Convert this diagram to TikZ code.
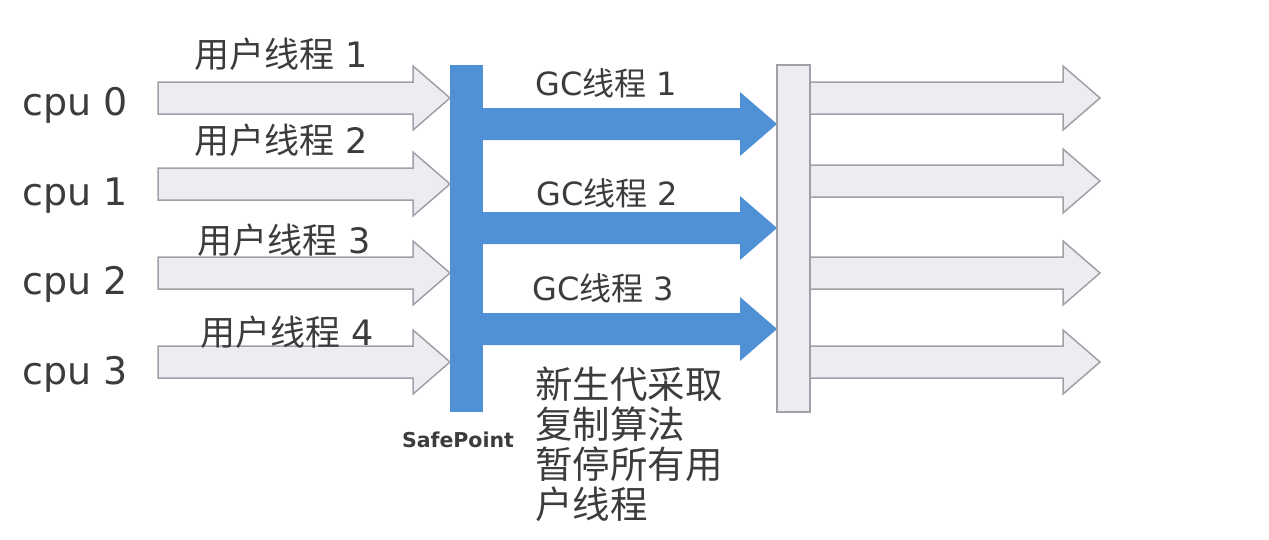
\documentclass[tikz,border=0pt]{standalone}
\usepackage{fontspec}
\setmainfont{DejaVu Sans}
\newfontfamily\cjk{Noto Sans CJK SC}
\usepackage{tikz}
\usetikzlibrary{positioning}

\definecolor{txtgray}{RGB}{60,60,60}
\definecolor{boxgray}{RGB}{236,236,241}
\definecolor{edgegray}{RGB}{160,160,168}
\definecolor{gcblue}{RGB}{80,144,212}

% body half width, head half width, head length
\newcommand\bw{16}
\newcommand\hw{32}
\newcommand\hl{37}
\newcommand\blockarrow[4]{%
  \draw[#1] (#2,#4-\bw) -- (#3-\hl,#4-\bw) -- (#3-\hl,#4-\hw) -- (#3,#4)
    -- (#3-\hl,#4+\hw) -- (#3-\hl,#4+\bw) -- (#2,#4+\bw) -- cycle;}

\tikzset{
  userarrow/.style={fill=boxgray,draw=edgegray,line width=1.5pt,line join=miter},
  gcarrow/.style={fill=gcblue,draw=none},
  cpulabel/.style={anchor=base west,inner sep=0,text=txtgray,font=\fontsize{38}{40}\selectfont},
  threadlabel/.style={anchor=base west,inner sep=0,text=txtgray,font=\fontsize{35}{40}\selectfont},
  gclabel/.style={anchor=base west,inner sep=0,text=txtgray,font=\fontsize{32}{36}\selectfont},
  spbar/.style={fill=gcblue,draw=none,minimum width=33pt,minimum height=347pt,inner sep=0},
  gcbar/.style={fill=boxgray,draw=edgegray,line width=1.5pt,minimum width=33pt,minimum height=347pt,inner sep=0}
}

\begin{document}
\begin{tikzpicture}[x=1pt,y=-1pt]
\useasboundingbox (0,0) rectangle (1269,539);

% user threads into the safepoint
\foreach \y in {98,184,273,362}
  \blockarrow{userarrow}{158}{450}{\y};
% gc threads
\foreach \y in {124,228,329}
  \blockarrow{gcarrow}{483}{777}{\y};
% back to user threads
\foreach \y in {98,181,273,362}
  \blockarrow{userarrow}{810}{1100}{\y};

\node[spbar] (sp) at (466.5,238.5) {};
\node[gcbar] (gcend) at (793.5,238.5) {};

\node[cpulabel] (cpu0) at (22,115) {cpu 0};
\node[cpulabel] (cpu1) at (22,205) {cpu 1};
\node[cpulabel] (cpu2) at (22,294) {cpu 2};
\node[cpulabel] (cpu3) at (22,384) {cpu 3};

\node[threadlabel] (ut1) at (194,67) {{\cjk 用户线程} 1};
\node[threadlabel] (ut2) at (194,153) {{\cjk 用户线程} 2};
\node[threadlabel] (ut3) at (197,253) {{\cjk 用户线程} 3};
\node[threadlabel] (ut4) at (200,345) {{\cjk 用户线程} 4};

\node[gclabel] (gc1) at (535,95) {GC{\cjk 线程} 1};
\node[gclabel] (gc2) at (536,205) {GC{\cjk 线程} 2};
\node[gclabel] (gc3) at (532,300) {GC{\cjk 线程} 3};

\node[text=txtgray,font=\bfseries\fontsize{20.5}{24}\selectfont,inner sep=0] (splabel) at (458,440) {SafePoint};

\node[anchor=north west,inner sep=0,align=left,text=txtgray,font=\cjk\fontsize{37.5}{40}\selectfont] (note) at (535,367)
  {新生代采取\\复制算法\\暂停所有用\\户线程};
\end{tikzpicture}
\end{document}
